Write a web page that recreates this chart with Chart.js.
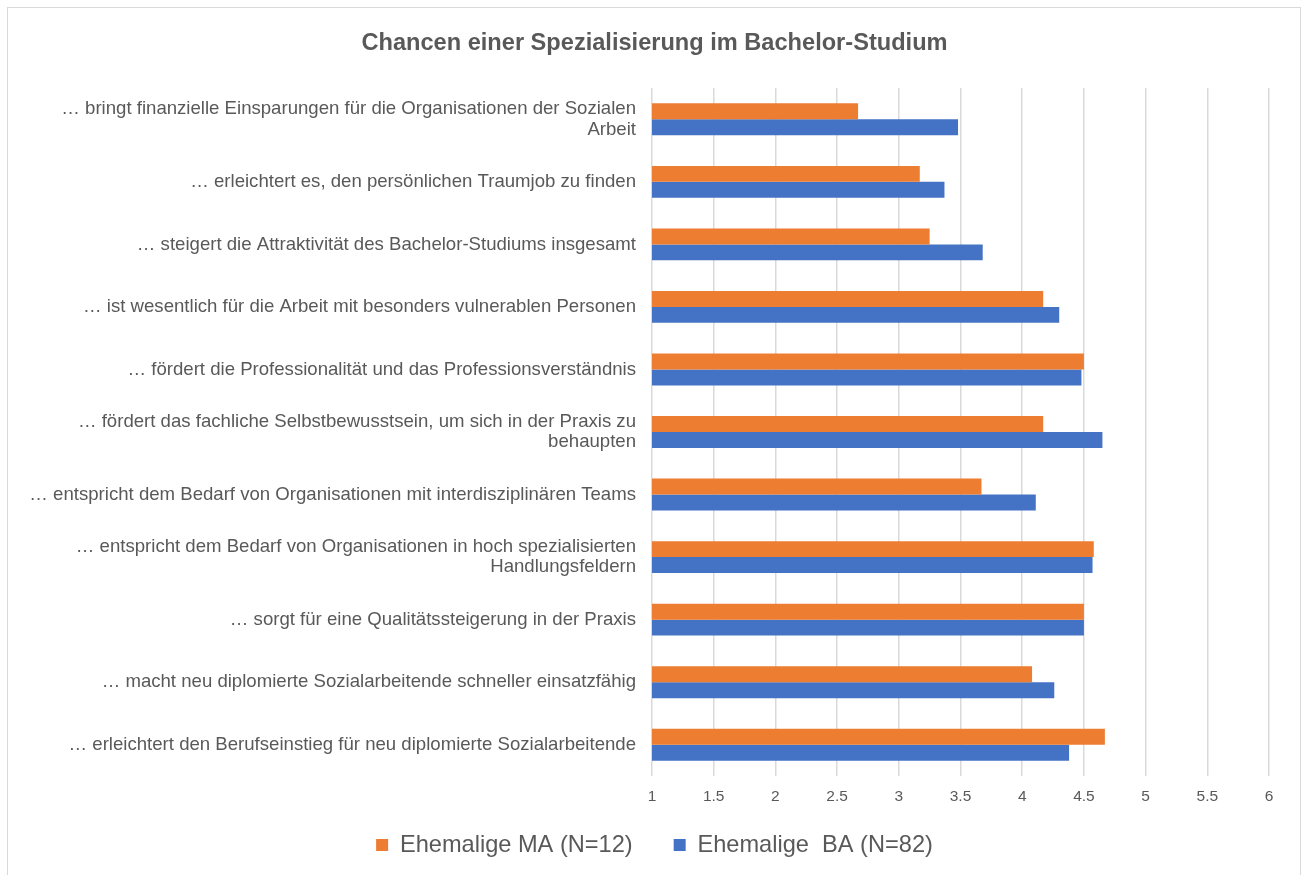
<!DOCTYPE html>
<html>
<head>
<meta charset="utf-8">
<script src="https://cdn.jsdelivr.net/npm/chart.js@4.4.1/dist/chart.umd.min.js"></script>
<style>
  html, body { margin: 0; padding: 0; background: #ffffff; overflow: hidden; }
  #wrap { position: absolute; left: 0; top: 0; width: 1304px; height: 875px; }
</style>
</head>
<body>
<div id="wrap"><canvas id="c"></canvas></div>
<script>
const chartTitle = "Chancen einer Spezialisierung im Bachelor-Studium";
const categories = [
  ["… bringt finanzielle Einsparungen für die Organisationen der Sozialen", "Arbeit"],
  "… erleichtert es, den persönlichen Traumjob zu finden",
  "… steigert die Attraktivität des Bachelor-Studiums insgesamt",
  "… ist wesentlich für die Arbeit mit besonders vulnerablen Personen",
  "… fördert die Professionalität und das Professionsverständnis",
  ["… fördert das fachliche Selbstbewusstsein, um sich in der Praxis zu", "behaupten"],
  "… entspricht dem Bedarf von Organisationen mit interdisziplinären Teams",
  ["… entspricht dem Bedarf von Organisationen in hoch spezialisierten", "Handlungsfeldern"],
  "… sorgt für eine Qualitätssteigerung in der Praxis",
  "… macht neu diplomierte Sozialarbeitende schneller einsatzfähig",
  "… erleichtert den Berufseinstieg für neu diplomierte Sozialarbeitende"
];
const seriesNames = ["Ehemalige MA (N=12)", "Ehemalige  BA (N=82)"];
const valuesMA = [2.67, 3.17, 3.25, 4.17, 4.50, 4.17, 3.67, 4.58, 4.50, 4.08, 4.67];
const valuesBA = [3.48, 3.37, 3.68, 4.30, 4.48, 4.65, 4.11, 4.57, 4.50, 4.26, 4.38];
const tickValues = [1, 1.5, 2, 2.5, 3, 3.5, 4, 4.5, 5, 5.5, 6];
const tickLabels = ["1", "1.5", "2", "2.5", "3", "3.5", "4", "4.5", "5", "5.5", "6"];
const axisStep = 0.5;

const FONT = "'Liberation Sans', Arial, Helvetica, sans-serif";
const TEXT = "#595959";

const frame = {
  id: 'frame',
  beforeDraw(chart) {
    const ctx = chart.ctx;
    ctx.save();
    ctx.fillStyle = '#ffffff';
    ctx.fillRect(0, 0, chart.width, chart.height);
    ctx.strokeStyle = '#d9d9d9';
    ctx.lineWidth = 1;
    ctx.strokeRect(7.5, 7.5, 1293, 900);
    ctx.restore();
  }
};

new Chart(document.getElementById('c'), {
  type: 'bar',
  data: {
    labels: categories,
    datasets: [
      { label: seriesNames[0], data: valuesMA, backgroundColor: '#ED7D31', borderWidth: 0,
        barPercentage: 1.0, categoryPercentage: 0.51 },
      { label: seriesNames[1], data: valuesBA, backgroundColor: '#4472C4', borderWidth: 0,
        barPercentage: 1.0, categoryPercentage: 0.51 }
    ]
  },
  options: {
    indexAxis: 'y',
    responsive: true,
    maintainAspectRatio: false,
    animation: false,
    layout: { padding: { left: 8, right: 3, top: 8, bottom: 8.2 } },
    plugins: {
      title: {
        display: true, text: chartTitle, color: TEXT,
        font: { family: FONT, size: 23.6, weight: 'bold', lineHeight: 1.2 },
        padding: { top: 21, bottom: 30.7 }
      },
      legend: {
        display: true, position: 'bottom', align: 'center',
        labels: {
          color: TEXT, boxWidth: 12, boxHeight: 12, padding: 41,
          font: { family: FONT, size: 23.6 }
        }
      },
      tooltip: { enabled: false }
    },
    scales: {
      x: {
        type: 'linear', position: 'bottom',
        min: tickValues[0], max: tickValues[tickValues.length - 1],
        afterFit(scale) {
          scale.height = 16.2;
          scale.paddingRight = 35;
          scale._computeLabelArea = () => undefined;
        },
        ticks: { stepSize: axisStep, color: TEXT, padding: 11.7,
          callback: (v) => { const i = tickValues.indexOf(v); return i >= 0 ? tickLabels[i] : String(v); },
          font: { family: FONT, size: 15.5, lineHeight: 1.2 } },
        grid: { color: '#d9d9d9', lineWidth: 1.5, drawTicks: false },
        border: { display: false }
      },
      y: {
        type: 'category',
        afterFit(scale) { scale.width = 644; },
        ticks: { color: TEXT, padding: 16, autoSkip: false,
          font: { family: FONT, size: 18.6, lineHeight: 1.1 } },
        grid: { display: false, drawTicks: false },
        border: { display: false }
      }
    }
  },
  plugins: [frame]
});
</script>
</body>
</html>
